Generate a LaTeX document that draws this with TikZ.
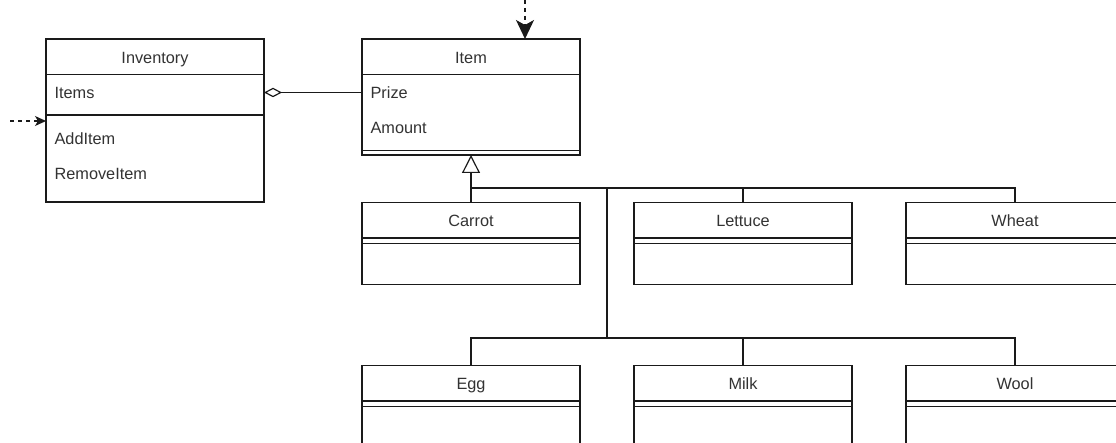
\documentclass[tikz,border=0pt]{standalone}
\usepackage{fontspec}
\setmainfont{Liberation Sans}
\usetikzlibrary{arrows.meta}
\definecolor{txt}{HTML}{333333}
\definecolor{ln}{HTML}{1A1A1A}
\begin{document}
\begin{tikzpicture}[x=1pt,y=-1pt,line width=1.2pt,draw=ln,
  cls/.style={draw=ln,rectangle,inner sep=0pt,outer sep=0pt,minimum width=218pt,anchor=north west,fill=white},
  ttl/.style={font=\fontsize{16.3}{19}\selectfont,text=txt,inner sep=0pt,anchor=base},
  attr/.style={ttl,anchor=base west},
  conn/.style={draw=ln,line width=1.2pt},
  gen/.style={conn,-{Triangle[open,length=18pt,width=18pt,line width=1.2pt]}},
  agg/.style={conn,{Diamond[open,length=18pt,width=9.5pt,line width=1.2pt]}-},
  dep/.style={conn,dash pattern=on 4pt off 4pt}]
\useasboundingbox (0,0) rectangle (1116,443);
\clip (0,0) rectangle (1116,443);
% Inventory
\node[cls,minimum height=163pt] (inv) at (46,39) {};
\node[ttl] (invT) at (155,63.5) {Inventory};
\draw ([yshift=-35.5pt]inv.north west) -- ([yshift=-35.5pt]inv.north east);
\draw ([yshift=-76pt]inv.north west) -- ([yshift=-76pt]inv.north east);
\node[attr] (items) at (54,99) {Items};
\node[attr] (add) at (54,145) {AddItem};
\node[attr] (rem) at (54,180) {RemoveItem};
% Item
\node[cls,minimum height=116pt] (item) at (362,39) {};
\node[ttl] (itemT) at (471,63.5) {Item};
\draw ([yshift=-35.5pt]item.north west) -- ([yshift=-35.5pt]item.north east);
\draw ([yshift=-111.5pt]item.north west) -- ([yshift=-111.5pt]item.north east);
\node[attr] (prize) at (370,99) {Prize};
\node[attr] (amount) at (370,134) {Amount};
% row 1
\node[cls,minimum height=82pt] (carrot) at (362,202.5) {};
\node[cls,minimum height=82pt] (lettuce) at (634,202.5) {};
\node[cls,minimum height=82pt] (wheat) at (906,202.5) {};
% row 2
\node[cls,minimum height=82pt] (egg) at (362,365.5) {};
\node[cls,minimum height=82pt] (milk) at (634,365.5) {};
\node[cls,minimum height=82pt] (wool) at (906,365.5) {};
\foreach \n in {carrot,lettuce,wheat,egg,milk,wool}{
  \draw ([yshift=-35.5pt]\n.north west) -- ([yshift=-35.5pt]\n.north east);
  \draw ([yshift=-41pt]\n.north west) -- ([yshift=-41pt]\n.north east);
}
\node[ttl] (carrotT) at (471,226.7) {Carrot};
\node[ttl] (lettuceT) at (743,226.7) {Lettuce};
\node[ttl] (wheatT) at (1015,226.7) {Wheat};
\node[ttl] (eggT) at (471,389.7) {Egg};
\node[ttl] (milkT) at (743,389.7) {Milk};
\node[ttl] (woolT) at (1015,389.7) {Wool};
% connectors
\coordinate (aggL) at (264,92.5);
\draw[agg] (aggL) -- (aggL -| item.west);
\coordinate (inL) at (10,121);
\draw[dep,-{Stealth[length=11pt,width=10pt,inset=3pt]}] (inL) -- (inL -| inv.west);
\coordinate (topS) at (525,0);
\draw[dep,-{Stealth[length=19pt,width=18pt,inset=5pt]}] (topS) -- (topS |- item.north);
\coordinate (j1) at (471,188);
\coordinate (j2) at (607,338);
\draw[gen] (carrot.north) -- (item.south);
\draw[conn] (lettuce.north) |- (j1);
\draw[conn] (wheat.north) |- (j1);
\draw[conn] (j2) -- (j2 |- j1);
\draw[conn] (egg.north) |- (j2);
\draw[conn] (milk.north) |- (j2);
\draw[conn] (wool.north) |- (j2);
\end{tikzpicture}
\end{document}
